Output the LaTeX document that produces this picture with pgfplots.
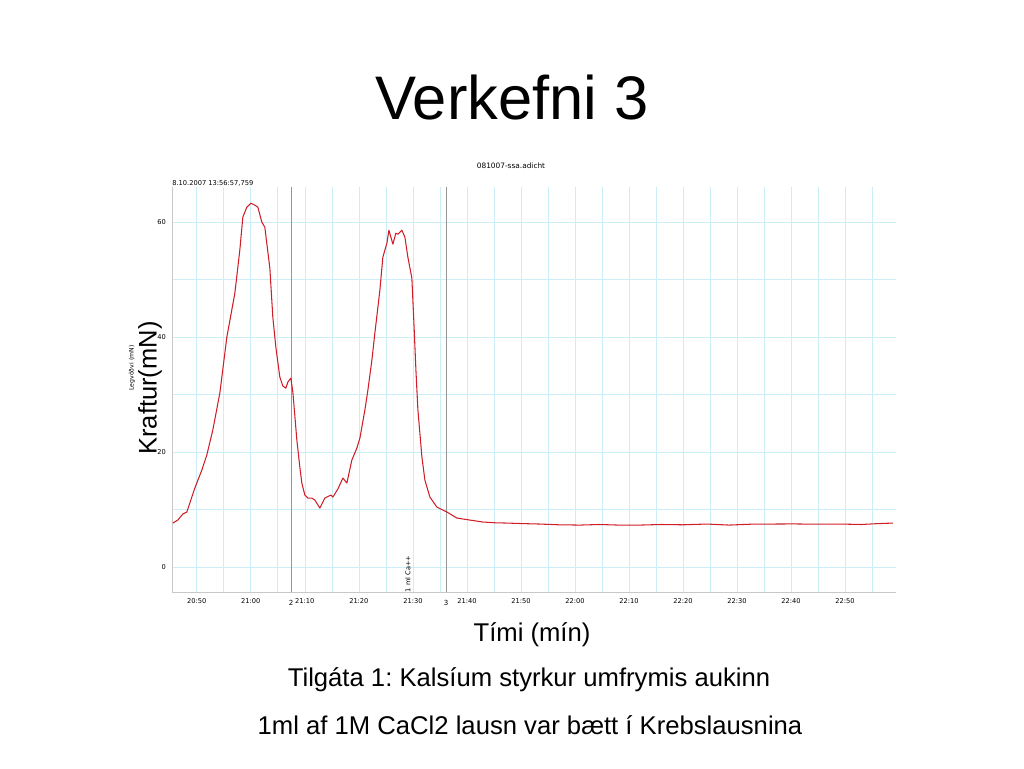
\documentclass[border=0pt]{standalone}
\usepackage{fontspec}
\setmainfont{Liberation Sans}
\newfontfamily\dvs{DejaVu Sans}
\usepackage{pgfplots}
\pgfplotsset{compat=1.18}

\definecolor{gridc}{RGB}{204,238,246}
\definecolor{axc}{RGB}{200,200,200}
\definecolor{markc}{RGB}{150,150,150}
\definecolor{trace}{RGB}{208,30,40}

\begin{document}
\frenchspacing
\begin{tikzpicture}[x=0.02cm,y=0.02cm]
\path[use as bounding box] (0,0) rectangle (1024,768);

% slide text
\node at (512,670) {\fontsize{35}{40}\selectfont Verkefni 3};
\node at (532,133) {\fontsize{14.6}{17}\selectfont Tími (mín)};
\node at (529,88) {\fontsize{14.6}{17}\selectfont Tilgáta 1: Kalsíum styrkur umfrymis aukinn};
\node at (530,43) {\fontsize{14.6}{17}\selectfont 1ml af 1M CaCl2 lausn var bætt í Krebslausnina};

% chart header texts
\node at (511,602) {\dvs\fontsize{4.2}{5}\selectfont 081007-ssa.adicht};
\node[anchor=west, inner sep=0pt] at (172,585) {\dvs\fontsize{3.8}{5}\selectfont 8.10.2007 13:56:57,759};
\node[rotate=90] at (132,400) {\dvs\fontsize{3.5}{4}\selectfont Legvöðvi (mN)};
\node[rotate=90] at (150,380) {\fontsize{14.5}{17}\selectfont Kraftur(mN)};

\begin{axis}[
    at={(3.44cm,3.52cm)}, anchor=south west,
    scale only axis,
    width=14.48cm, height=8.1cm,
    xmin=45.4, xmax=179.4,
    ymin=-4.35, ymax=66.1,
    axis x line=bottom, axis y line=left,
    axis line style={axc, -},
    xtick={50,60,...,170},
    xticklabels={20:50,21:00,21:10,21:20,21:30,21:40,21:50,22:00,22:10,22:20,22:30,22:40,22:50},
    minor xtick={45,55,...,175},
    ytick={0,20,40,60},
    minor ytick={10,30,50},
    grid=both,
    major grid style={gridc, line width=0.4pt},
    minor grid style={gridc, line width=0.4pt},
    major tick length=0pt, minor tick length=0pt,
    tick label style={font=\dvs\fontsize{3.8}{4}\selectfont},
    /pgf/number format/assume math mode=true,
    clip=false,
]
% event markers
\addplot[markc, line width=0.5pt] coordinates {(67.6,-4.35) (67.6,66.1)};
\addplot[markc, line width=0.5pt] coordinates {(96.3,-4.35) (96.3,66.1)};

\addplot[trace, line width=0.6pt, line join=round] coordinates {
(45.56,7.65) (46.48,8.17) (47.41,9.22) (48.15,9.57) (49.63,13.74)
(50.93,16.87) (51.85,19.48) (52.96,23.83) (54.26,30.26) (55.56,40.0)
(57.04,47.65) (57.96,55.13) (58.52,60.87) (59.26,62.61) (60.0,63.30)
(60.74,62.96) (61.30,62.61) (62.04,60.0) (62.59,59.13) (63.52,52.0)
(64.07,43.48) (64.63,38.26) (65.37,33.04) (65.93,31.48) (66.48,31.13)
(66.85,32.17) (67.41,32.87) (67.78,30.43) (68.52,22.09) (69.07,17.39)
(69.44,14.61) (70.0,12.52) (70.56,12.0) (71.30,12.0) (71.85,11.65)
(72.78,10.26) (73.70,12.0) (74.81,12.52) (75.19,12.17) (76.11,13.57)
(77.04,15.48) (77.78,14.61) (78.70,18.61) (79.63,20.70) (80.19,22.43)
(81.11,27.30) (81.67,30.78) (82.41,36.0) (82.96,40.70) (83.89,48.17)
(84.44,53.91) (85.19,56.35) (85.56,58.61) (86.30,56.17) (86.85,58.09)
(87.22,57.91) (87.96,58.61) (88.52,57.39) (89.07,53.91) (89.81,50.26)
(90.19,42.43) (90.56,34.26) (90.93,27.30) (91.67,19.13) (92.22,15.13)
(93.15,12.17) (94.44,10.43) (96.30,9.57) (98.15,8.52) (100.56,8.17)
(102.96,7.83) (105.2,7.7) (107.41,7.65) (110.5,7.55) (113.52,7.48)
(117.0,7.35) (120.93,7.30) (124.5,7.4) (128.0,7.3) (132.04,7.30)
(136.0,7.4) (140.0,7.35) (144.44,7.48) (148.5,7.3) (152.5,7.45)
(156.67,7.48) (160.5,7.5) (164.8,7.45) (169.07,7.48) (173.0,7.4)
(176.0,7.55) (178.89,7.65)
};
\node[rotate=90, font=\dvs\fontsize{3.8}{4}\selectfont] at (axis cs:89.07,-1.2) {1 ml Ca++};
\end{axis}

\node[font=\dvs\fontsize{4}{5}\selectfont] at (291,165) {2};
\node[font=\dvs\fontsize{4}{5}\selectfont] at (446,165) {3};
\end{tikzpicture}
\end{document}
